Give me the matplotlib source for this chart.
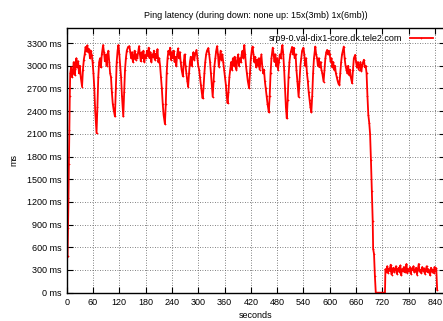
import numpy as np
import matplotlib
matplotlib.use("Agg")
import matplotlib.pyplot as plt

plt.rcParams['font.family'] = ['Liberation Sans', 'DejaVu Sans']

title = "Ping latency (during down: none up: 15x(3mb) 1x(6mb))"
host = "srp9-0.val-dix1-core.dk.tele2.com"

# seconds / latency (ms)
secs = [0, 1, 2, 3, 4, 5, 6, 7, 8,
        10, 12, 14, 16, 18, 20, 22, 24, 26, 28, 30, 32, 35, 37, 39, 41, 43, 45, 47, 49,
        51, 53, 55, 57, 59, 61, 63, 65, 68, 70, 72, 74, 76, 78, 80, 83, 85, 87, 89, 91,
        93, 95, 97, 99, 101, 103, 105, 107, 110, 112, 114, 116, 118, 120, 122, 124, 126,
        129, 131, 133, 135, 137, 140, 143, 145, 147, 149, 151, 153, 155, 157, 159, 161,
        163, 165, 167, 169, 171, 173, 175, 177, 179, 181, 183, 185, 187, 189, 191, 193,
        195, 197, 199, 201, 203, 205, 207, 209, 211, 213, 215, 217, 219, 221, 224, 226,
        228, 230, 232, 234, 236, 238, 240, 242, 244, 246, 248, 250, 252, 254, 256, 258,
        260, 262, 265, 267, 269, 271, 273, 275, 277, 279, 281, 283, 285, 287, 289, 291,
        293, 296, 298, 300, 302, 304, 306, 308, 310, 312, 314, 316, 318, 320, 323, 325,
        327, 329, 331, 333, 335, 337, 339, 341, 343, 345, 347, 349, 351, 353, 355, 357,
        359, 361, 363, 365, 367, 369, 371, 373, 375, 377, 379, 381, 383, 385, 387, 389,
        391, 393, 395, 397, 399, 401, 403, 405, 407, 409, 411, 413, 416, 418, 420, 422,
        424, 426, 428, 430, 432, 434, 436, 438, 440, 442, 444, 446, 448, 450, 452, 454,
        456, 458, 461, 463, 465, 467, 470, 472, 474, 476, 478, 480, 482, 484, 486, 488,
        490, 492, 494, 496, 498, 500, 502, 504, 506, 508, 510, 512, 514, 516, 518, 520,
        522, 524, 526, 529, 531, 533, 535, 537, 540, 542, 544, 546, 548, 550, 552, 554,
        556, 558, 560, 562, 564, 567, 569, 571, 573, 575, 577, 579, 581, 583, 586, 588,
        590, 592, 594, 596, 598, 600, 602, 604, 606, 608, 610, 612, 614, 616, 618, 620,
        622, 624, 626, 628, 630, 632, 634, 636, 638, 640, 642, 644, 646, 648, 651, 653,
        655, 658, 660, 662, 664, 666, 668, 670, 672, 674, 676, 678, 680, 682, 684, 686,
        688, 690, 692, 694, 696, 698, 699, 701, 703, 705, 710, 715, 720, 726,
        727, 729, 731, 733, 735, 737, 739, 741, 743, 745, 747, 749, 751, 753, 755, 757,
        759, 761, 763, 765, 767, 769, 771, 773, 775, 777, 779, 781, 783, 785, 787, 789,
        791, 793, 795, 797, 799, 801, 803, 805, 807, 809, 811, 813, 815, 817, 819, 821,
        823, 825, 827, 829, 831, 833, 835, 837, 839, 841, 843, 845]

ms = [0, 470, 490, 860, 1250, 1700, 2150, 2600, 2900,
      2980, 2850, 2920, 3050, 2880, 2960, 3100, 2980, 3060, 2900, 3000, 2850, 2725, 2950, 3080, 3150, 3250, 3200, 3270, 3180,
      3220, 3100, 3200, 3140, 3050, 2900, 2700, 2400, 2110, 2450, 2850, 3050, 3100, 2980, 3150, 3275, 3180, 3060, 3150, 3000,
      3120, 3200, 3050, 2900, 2850, 2650, 2500, 2420, 2330, 2700, 3050, 3200, 3275, 3150, 3000, 2850, 2600,
      2330, 2650, 2950, 3100, 3200, 3250, 3260, 3180, 3100, 3180, 3050, 3120, 3200, 3080, 3150, 3100,
      3180, 3260, 3150, 3060, 3180, 3100, 3200, 3050, 3140, 3100, 3200, 3130, 3240, 3100, 3180, 3050,
      3150, 3120, 3200, 3080, 3160, 3100, 3220, 3050, 3100, 3000, 2850, 2700, 2500, 2350, 2230, 2500,
      2900, 3100, 3200, 3150, 3240, 3080, 3180, 3100, 3200, 3050, 3120, 3000, 3150, 3230, 3100, 3180,
      3050, 2950, 2860, 3050, 3150, 3000, 2900, 2800, 2725, 2900, 3050, 3120, 3000, 3100, 3180, 3080,
      3150, 3210, 3100, 3000, 2950, 2850, 2750, 2650, 2570, 2700, 2900, 3050, 3150, 3200, 3235, 3150,
      3050, 2900, 2750, 2590, 2800, 3000, 3100, 3200, 3260, 3150, 2990, 3100, 3200, 3080, 3150, 3050,
      2950, 2850, 2750, 2600, 2505, 2650, 2850, 2950, 3050, 2950, 3100, 3000, 3120, 3050, 2950, 3080,
      3150, 3000, 3100, 3050, 3150, 3200, 3100, 3275, 3150, 3000, 2900, 2800, 2705, 2900, 3100, 3200,
      3255, 3150, 3050, 3120, 2980, 3080, 3000, 3100, 2950, 3050, 3150, 3000, 2900, 2950, 2800, 2700,
      2600, 2500, 2385, 2600, 2900, 3100, 3240, 3150, 3050, 3150, 3000, 3100, 2950, 3050, 3150, 3100,
      3200, 3275, 3150, 2950, 2700, 2450, 2305, 2550, 2850, 3050, 3150, 3200, 3250, 3150, 3240, 3100,
      3150, 2950, 2800, 2590, 2800, 3000, 3100, 3200, 3240, 3150, 3000, 3100, 2900, 2800, 2650, 2550,
      2450, 2385, 2600, 2900, 3100, 3255, 3150, 3100, 3000, 3100, 2980, 3050, 2950, 2900, 2790, 2950,
      3100, 3180, 3210, 3150, 3200, 3150, 3050, 3100, 2980, 3050, 2950, 3000, 2900, 2850, 2800, 2760,
      2750, 2900, 3050, 3150, 3200, 3255, 3100, 3000, 2950, 2900, 3000, 2880, 2950, 2850, 2770, 2950,
      3100, 3145, 3050, 2980, 3050, 2950, 3000, 3050, 2930, 3000, 3050, 3080, 2980, 3000, 2900, 2600,
      2350, 2250, 2100, 1750, 1350, 950, 580, 510, 220, 0, 0, 0, 0, 0,
      310, 280, 350, 260, 320, 290, 370, 240, 300, 330, 270, 310, 350, 250, 300, 330,
      280, 360, 230, 310, 290, 340, 270, 300, 380, 260, 310, 290, 340, 250, 320, 300,
      350, 270, 290, 330, 240, 310, 380, 280, 300, 260, 340, 290, 320, 250, 300, 350,
      270, 310, 290, 230, 330, 280, 300, 260, 340, 290, 320, 40]

xticks = list(range(0, 841, 60))
yticks = list(range(0, 3301, 300))

fig = plt.figure(figsize=(4.43, 3.21), dpi=100)
ax = fig.add_axes([0.1506, 0.0882, 0.854, 0.8246])

ax.plot(secs, ms, color='#ff0000', lw=1.3, marker='+', ms=2, mew=0.5, label=host)

ax.set_xlim(0, 863)
ax.set_ylim(0, 3500)
ax.set_xticks(xticks)
ax.set_yticks(yticks)
ax.set_yticklabels(["%d ms" % v for v in yticks])
ax.tick_params(direction='in', length=4, width=0.8, labelsize=6.5, top=True, right=True, pad=4)
ax.grid(True, color='0.35', linestyle=(0, (1, 2)), lw=0.6)
for s in ax.spines.values():
    s.set_linewidth(1.0)

ax.set_title(title, fontsize=6.5, pad=7)
ax.set_xlabel("seconds", fontsize=6.5, labelpad=3)
ax.set_ylabel("ms", fontsize=6.5, labelpad=6)

ax.legend(loc='upper right', bbox_to_anchor=(0.985, 1.0), frameon=False, fontsize=6.5,
          markerfirst=False, handlelength=2.6, borderaxespad=0.3)

fig.savefig("out.png", dpi=100)
